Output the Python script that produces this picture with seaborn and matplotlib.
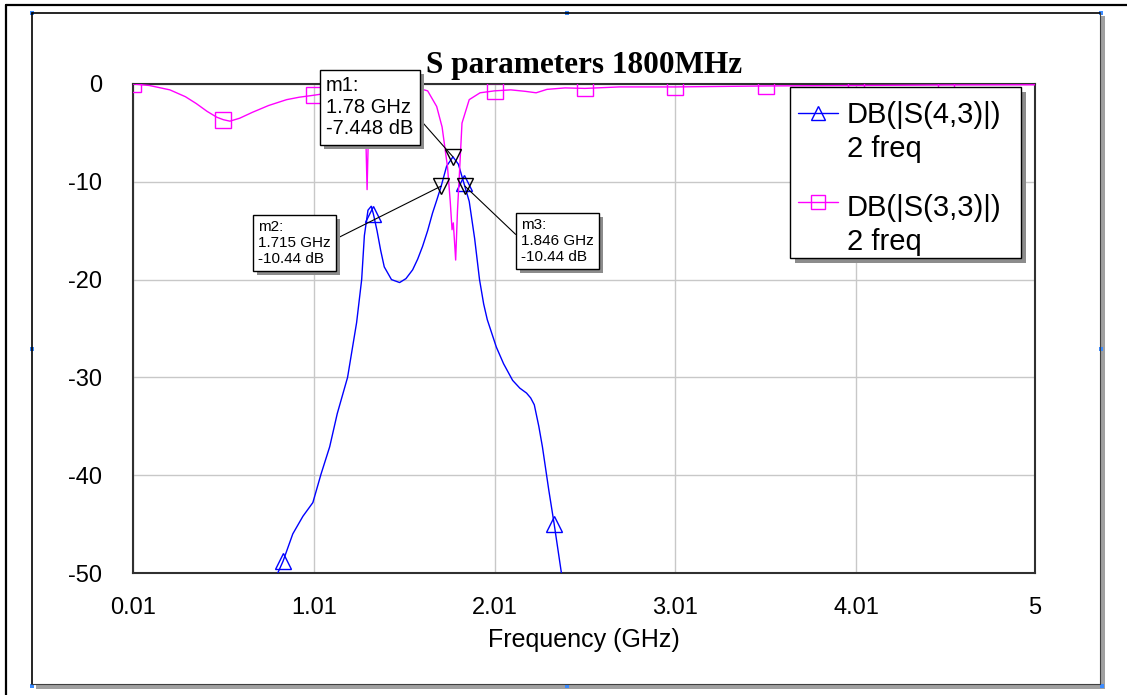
import numpy as np
import pandas as pd
import matplotlib
matplotlib.use("Agg")
import matplotlib.pyplot as plt
import matplotlib.patheffects as pe
import seaborn as sns
from matplotlib.lines import Line2D
from matplotlib.patches import Rectangle

# ---------------- data ----------------
title = "S parameters 1800MHz"
x_label = "Frequency (GHz)"
x_ticks = [0.01, 1.01, 2.01, 3.01, 4.01, 5.0]
x_tick_labels = ["0.01", "1.01", "2.01", "3.01", "4.01", "5"]
y_ticks = [0, -10, -20, -30, -40, -50]
y_tick_labels = ["0", "-10", "-20", "-30", "-40", "-50"]

# DB(|S(4,3)|)
s43_freq = [0.01, 0.34, 0.6, 0.75, 0.806, 0.84, 0.894, 0.95, 1.005, 1.05, 1.098,
            1.14, 1.197, 1.247, 1.275, 1.29, 1.31, 1.328, 1.34, 1.36, 1.38, 1.40,
            1.44, 1.485, 1.52, 1.557, 1.585, 1.612, 1.64, 1.667, 1.69, 1.715,
            1.745, 1.78, 1.81, 1.84, 1.87, 1.90, 1.927, 1.95, 1.97, 2.02, 2.06,
            2.11, 2.15, 2.187, 2.21, 2.23, 2.255, 2.275, 2.31, 2.34, 2.38, 2.45, 2.6]
s43_db = [-100, -78, -61, -53, -50.2, -48.8, -46.0, -44.2, -42.8, -39.9, -37.1,
          -33.7, -30.0, -24.4, -20.0, -15.5, -12.9, -12.5, -13.3, -15.0, -17.0, -18.7,
          -20.0, -20.3, -19.9, -19.0, -17.9, -16.6, -15.0, -13.2, -11.9, -10.44,
          -8.4, -7.448, -8.2, -10.1, -12.0, -15.8, -20.0, -22.5, -24.1, -26.9, -28.6,
          -30.3, -31.1, -31.6, -32.1, -32.8, -35.0, -37.1, -41.5, -45.0, -50.0, -57.0, -70.0]
s43_marker_freq = [0.34, 0.84, 1.34, 1.84, 2.34]

# DB(|S(3,3)|)
s33_freq = [0.01, 0.1, 0.214, 0.3, 0.36, 0.42, 0.474, 0.51, 0.546, 0.6, 0.67, 0.76,
            0.86, 0.93, 1.01, 1.1, 1.2, 1.28, 1.295, 1.305, 1.315, 1.33, 1.4, 1.51,
            1.6, 1.64, 1.69, 1.72, 1.75, 1.765, 1.775, 1.782, 1.79, 1.795, 1.805,
            1.816, 1.83, 1.87, 1.93, 2.01, 2.1, 2.18, 2.24, 2.3, 2.4, 2.51, 2.7,
            3.01, 3.51, 4.01, 4.51, 5.0]
s33_db = [0.0, -0.15, -0.6, -1.3, -2.0, -2.8, -3.4, -3.65, -3.8, -3.5, -2.9, -2.2,
          -1.6, -1.35, -1.15, -0.9, -0.7, -0.9, -3.0, -10.8, -3.0, -0.7, -0.5, -0.45,
          -0.5, -0.7, -2.3, -4.4, -8.5, -12.0, -14.9, -14.2, -16.5, -18.0, -13.0,
          -9.1, -4.0, -1.6, -0.9, -0.7, -0.6, -0.75, -0.9, -0.55, -0.4, -0.45, -0.3,
          -0.3, -0.2, -0.15, -0.1, -0.08]
s33_marker_freq = [0.01, 0.51, 1.01, 1.51, 2.01, 2.51, 3.01, 3.51, 4.01, 4.51]

legend_labels = ["DB(|S(4,3)|)\n2 freq", "DB(|S(3,3)|)\n2 freq"]

marker_names = ["m1", "m2", "m3"]
marker_freq = [1.78, 1.715, 1.846]
marker_db = [-7.448, -10.44, -10.44]
marker_freq_labels = ["1.78 GHz", "1.715 GHz", "1.846 GHz"]
marker_db_labels = ["-7.448 dB", "-10.44 dB", "-10.44 dB"]

# ---------------- style ----------------
BLUE = "#0000ff"
MAGENTA = "#ff00ff"
SHADOW = "#8c8c8c"
W, H = 1127, 695
sns.set_theme(style="white")
plt.rcParams["font.family"] = ["Liberation Sans", "DejaVu Sans"]

fig = plt.figure(figsize=(W / 100, H / 100), dpi=100)
fig.patch.set_facecolor("white")
ax = fig.add_axes([133 / W, 1 - 573 / H, (1035 - 133) / W, (573 - 84) / H])
ax.set_facecolor("white")


def fx(x):
    return x / W


def fy(y):
    return 1 - y / H


df43 = pd.DataFrame({"f": s43_freq, "db": s43_db})
df33 = pd.DataFrame({"f": s33_freq, "db": s33_db})
mk43 = [i for i, f in enumerate(s43_freq) if f in s43_marker_freq]
mk33 = [i for i, f in enumerate(s33_freq) if f in s33_marker_freq]

sns.lineplot(data=df43, x="f", y="db", ax=ax, color=BLUE, lw=1.0, sort=False,
             estimator=None, marker="^", markevery=mk43, markersize=12,
             markerfacecolor="none", markeredgecolor=BLUE, markeredgewidth=1.0,
             zorder=3)
sns.lineplot(data=df33, x="f", y="db", ax=ax, color=MAGENTA, lw=1.0, sort=False,
             estimator=None, marker="s", markevery=mk33, markersize=11,
             markerfacecolor="none", markeredgecolor=MAGENTA, markeredgewidth=1.0,
             zorder=3)

# marker points m1..m3
ax.plot(marker_freq, marker_db, linestyle="none", marker="v", markersize=12,
        markerfacecolor="none", markeredgecolor="black", markeredgewidth=1.0, zorder=4)

ax.set_xlim(0.01, 5.0)
ax.set_ylim(-50, 0)
ax.set_xticks(x_ticks)
ax.set_xticklabels(x_tick_labels)
ax.set_yticks(y_ticks)
ax.set_yticklabels(y_tick_labels)
ax.tick_params(axis="x", length=0, pad=17, labelsize=17, colors="black")
ax.tick_params(axis="y", length=0, pad=22, labelsize=17, colors="black")
ax.set_xlabel(x_label, fontsize=18, labelpad=7, color="black")
ax.set_ylabel("")
ax.set_title(title, fontfamily=["Liberation Serif"], fontweight="bold",
             fontsize=22.5, pad=8, color="black")
ax.grid(True, color="#c8c8c8", lw=1.0)
ax.set_axisbelow(True)
for sp in ax.spines.values():
    sp.set_visible(True)
    sp.set_color("#303030")
    sp.set_linewidth(1.5)
if ax.get_legend() is not None:
    ax.get_legend().remove()

# ---------------- marker annotation boxes ----------------
box_specs = [
    # (text left px, text top px, fontsize, relpos)
    (326, 76, 14.5, (1.0, 0.42)),
    (258, 220, 11, (1.0, 0.53)),
    (521, 218, 11, (0.0, 0.53)),
]
for i, (tx, ty, fs, rp) in enumerate(box_specs):
    txt = f"{marker_names[i]}:\n{marker_freq_labels[i]}\n{marker_db_labels[i]}"
    ann = ax.annotate(txt, xy=(marker_freq[i], marker_db[i]), xycoords="data",
                      xytext=(tx, H - ty), textcoords="figure pixels", ha="left",
                      va="top", fontsize=fs, color="black", linespacing=1.17,
                      zorder=8, annotation_clip=False,
                      bbox=dict(boxstyle="square,pad=0.32", fc="white", ec="black", lw=1),
                      arrowprops=dict(arrowstyle="-", color="black", lw=0.8, shrinkA=0,
                                      shrinkB=0, relpos=rp))
    ann.get_bbox_patch().set_path_effects([
        pe.SimplePatchShadow(offset=(3, -3), shadow_rgbFace=SHADOW, alpha=1.0),
        pe.Normal()])

# ---------------- legend (drawn box with shadow) ----------------
lx0, ly0, lx1, ly1 = 790, 87, 1021, 258
ax.add_artist(Rectangle((fx(lx0 + 5), fy(ly1 + 5)), (lx1 - lx0) / W, (ly1 - ly0) / H,
                        transform=fig.transFigure, fc=SHADOW, ec="none",
                        zorder=9, clip_on=False))
ax.add_artist(Rectangle((fx(lx0), fy(ly1)), (lx1 - lx0) / W, (ly1 - ly0) / H,
                        transform=fig.transFigure, fc="white", ec="black", lw=1.0,
                        zorder=10, clip_on=False))
entries = [(BLUE, "^", 113, 123, 157), (MAGENTA, "s", 202, 216, 250)]
for (col, mk, yh, yb1, yb2), lab in zip(entries, legend_labels):
    ax.add_artist(Line2D([fx(798), fx(818), fx(838)], [fy(yh)] * 3,
                         transform=fig.transFigure, color=col, lw=1.0, marker=mk,
                         markevery=[1], markersize=10, markerfacecolor="none",
                         markeredgecolor=col, markeredgewidth=1.0, zorder=11,
                         clip_on=False))
    l1, l2 = lab.split("\n")
    ax.text(fx(847), fy(yb1), l1, transform=fig.transFigure, ha="left",
            va="baseline", fontsize=21, color="black", zorder=11)
    ax.text(fx(847), fy(yb2), l2, transform=fig.transFigure, ha="left",
            va="baseline", fontsize=21, color="black", zorder=11)

# ---------------- outer frames ----------------
def fline(xs, ys, color="black", lw=1.5):
    fig.add_artist(Line2D([fx(v) for v in xs], [fy(v) for v in ys],
                          transform=fig.transFigure, color=color, lw=lw))


fline([6, 1127], [5, 5], lw=1.6)
fline([6, 6], [5, 695], lw=1.6)
fig.add_artist(Rectangle((fx(1100), fy(689)), 5 / W, (689 - 16) / H,
                         transform=fig.transFigure, fc="#a0a0a0", ec="none"))
fig.add_artist(Rectangle((fx(36), fy(689)), (1105 - 36) / W, 5 / H,
                         transform=fig.transFigure, fc="#a0a0a0", ec="none"))
fline([32, 1100], [13, 13], lw=1.2)
fline([32, 32], [13, 684], lw=1.2)
fline([1100, 1100], [13, 684], color="#404040", lw=0.8)
fline([32, 1100], [684, 684], color="#404040", lw=0.8)
for (hx, hy) in [(32, 13), (567, 13), (1101, 13), (32, 349), (1101, 349),
                 (32, 686), (567, 686), (1102, 686)]:
    fig.add_artist(Rectangle((fx(hx - 2), fy(hy + 2)), 4 / W, 4 / H,
                             transform=fig.transFigure, fc="#3c8cff", ec="none"))

fig.savefig("out.png", dpi=100, facecolor="white")
